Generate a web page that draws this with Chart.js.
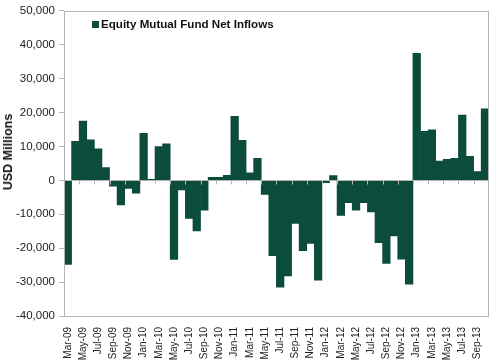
<!DOCTYPE html>
<html>
<head>
<meta charset="utf-8">
<script src="https://cdn.jsdelivr.net/npm/chart.js@4"></script>
<style>
  body { margin: 0; background: #fff; }
  #wrap { position: relative; width: 500px; height: 361px; }
  #legend {
    position: absolute; left: 92px; top: 17px;
    font: bold 11.6px "Liberation Sans", Arial, sans-serif; color: #111;
    white-space: nowrap;
  }
  #legend span.box {
    display: inline-block; width: 7px; height: 7px; background: #0c4c3c;
    margin-right: 2px; vertical-align: 0px;
  }
  #ytitle {
    position: absolute; left: 8px; top: 152px; width: 0; height: 0;
  }
  #ytitle span {
    position: absolute; transform: translate(-50%, -50%) rotate(-90deg);
    font: bold 12.5px "Liberation Sans", Arial, sans-serif; color: #111;
    white-space: nowrap;
  }
</style>
</head>
<body>
<div id="wrap">
  <canvas id="myChart" width="500" height="361"></canvas>
  <div id="legend"><span class="box"></span>Equity Mutual Fund Net Inflows</div>
  <div id="ytitle"><span>USD Millions</span></div>
</div>
<script>
const months = ['Mar-09','Apr-09','May-09','Jun-09','Jul-09','Aug-09','Sep-09','Oct-09','Nov-09','Dec-09',
  'Jan-10','Feb-10','Mar-10','Apr-10','May-10','Jun-10','Jul-10','Aug-10','Sep-10','Oct-10','Nov-10','Dec-10',
  'Jan-11','Feb-11','Mar-11','Apr-11','May-11','Jun-11','Jul-11','Aug-11','Sep-11','Oct-11','Nov-11','Dec-11',
  'Jan-12','Feb-12','Mar-12','Apr-12','May-12','Jun-12','Jul-12','Aug-12','Sep-12','Oct-12','Nov-12','Dec-12',
  'Jan-13','Feb-13','Mar-13','Apr-13','May-13','Jun-13','Jul-13','Aug-13','Sep-13','Oct-13'];

const netInflows = [-24800, 11500, 17500, 12000, 9300, 3800, -1700, -7200, -2400, -3800,
  13900, 300, 10000, 10800, -23300, -2800, -11200, -14900, -8800, 900, 900, 1500,
  18900, 11800, 2200, 6500, -4100, -22200, -31500, -28200, -12700, -20700, -18600, -29400,
  -700, 1400, -10300, -6600, -8800, -6600, -9300, -18400, -24500, -16400, -23200, -30600,
  37500, 14500, 14900, 5700, 6200, 6500, 19300, 7100, 2600, 21100];

const yMin = -40000;
const yMax = 50000;
const yStep = 10000;

const barColor = '#0c4c3c';
const frameColor = '#b4b4b4';

// frame round the plot and the little tick marks on the zero line
const framePlugin = {
  id: 'frame',
  afterDatasetsDraw(chart) {
    const ctx = chart.ctx;
    const a = chart.chartArea;
    const x = chart.scales.x;
    const y = chart.scales.y;
    ctx.save();
    ctx.strokeStyle = frameColor;
    ctx.lineWidth = 1;
    ctx.strokeRect(Math.round(a.left) + 0.5, Math.round(a.top) + 0.5,
      Math.round(a.right - a.left) - 1, Math.round(a.bottom - a.top));
    const zy = Math.round(y.getPixelForValue(0)) + 0.5;
    ctx.beginPath();
    ctx.moveTo(a.left, zy);
    ctx.lineTo(a.right, zy);
    for (let i = 2; i < months.length; i += 2) {
      const px = Math.round((x.getPixelForValue(i - 1) + x.getPixelForValue(i)) / 2) + 0.5;
      ctx.moveTo(px, zy);
      ctx.lineTo(px, zy + 4);
    }
    ctx.stroke();
    ctx.restore();
  }
};

const ctx = document.getElementById('myChart').getContext('2d');
const myChart = new Chart(ctx, {
  type: 'bar',
  data: {
    labels: months,
    datasets: [{
      label: 'Equity Mutual Fund Net Inflows',
      data: netInflows,
      backgroundColor: barColor,
      borderWidth: 0,
      barPercentage: 1,
      categoryPercentage: 1
    }]
  },
  options: {
    responsive: false,
    animation: false,
    layout: { padding: { left: 0, right: 1, top: 0, bottom: 0 } },
    plugins: {
      legend: { display: false },
      tooltip: { enabled: false }
    },
    scales: {
      x: {
        grid: { display: false },
        border: { display: false },
        ticks: {
          autoSkip: false,
          maxRotation: 90,
          minRotation: 90,
          padding: 3,
          color: '#222',
          font: { family: '"Liberation Sans", Arial, sans-serif', size: 10 },
          callback: function (val, i) { return i % 2 === 0 ? months[i] : ''; }
        },
        afterFit: function (scale) { scale.height = 45; }
      },
      y: {
        min: yMin,
        max: yMax,
        grid: {
          color: 'transparent',
          tickColor: frameColor,
          tickLength: 5
        },
        border: { display: false },
        ticks: {
          stepSize: yStep,
          padding: 4,
          color: '#222',
          font: { family: '"Liberation Sans", Arial, sans-serif', size: 11.5 },
          callback: function (v) { return v.toLocaleString('en-US'); }
        },
        afterFit: function (scale) { scale.width = 64; }
      }
    }
  },
  plugins: [framePlugin]
});
</script>
</body>
</html>
